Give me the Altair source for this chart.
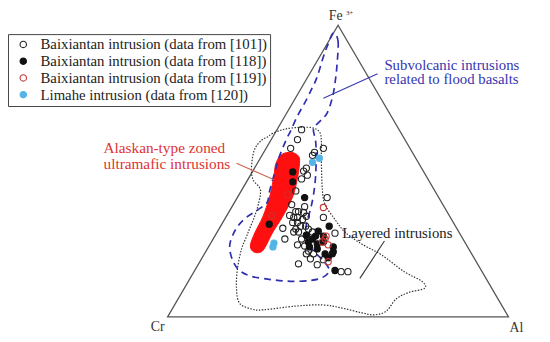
import altair as alt
import pandas as pd

# Ternary frame: x = Al + Fe3+/2 (%), y = Fe3+ (%); Cr at (0,0), Al at (100,0), Fe3+ at (50,100)
series_names = [
    "Baixiantan intrusion (data from [101])",
    "Baixiantan intrusion (data from [118])",
    "Baixiantan intrusion (data from [119])",
    "Limahe intrusion (data from [120])",
]
stroke_colors = ["#222222", "#111111", "#c83232", "#55b4e6"]
fill_colors = ["transparent", "#111111", "transparent", "#55b4e6"]

s101_x = [39.3, 38.1, 36.1, 45.7, 43.1, 42.5, 40.7, 39.9, 41.0, 39.3, 37.6, 46.8, 45.7, 37.6, 38.4, 39.9,
          37.0, 38.1, 39.6, 40.7, 36.7, 38.1, 39.0, 40.5, 37.6, 41.3, 38.4, 42.5, 37.0, 33.8, 39.3, 34.4,
          38.1, 49.1, 38.4, 41.9, 43.9, 45.7, 50.9, 52.9, 42.8, 40.7, 40.2, 35.8, 40.2, 41.3, 36.4]
s101_y = [64.2, 60.8, 57.8, 57.8, 56.4, 55.4, 51.0, 50.0, 48.6, 47.3, 43.2, 40.9, 34.1, 36.1, 36.1, 35.8,
          34.1, 34.1, 33.4, 34.5, 32.4, 32.4, 31.1, 31.1, 30.1, 30.1, 29.1, 29.1, 29.1, 30.4, 26.7, 26.7,
          24.7, 28.7, 18.2, 19.9, 17.9, 19.6, 15.5, 15.5, 21.6, 21.6, 37.8, 34.8, 24.3, 22.6, 38.5]
s118_x = [36.7, 36.7, 40.2, 29.8, 47.4, 44.2, 43.4, 42.5, 41.3, 45.7, 43.9, 45.7, 41.6, 43.9, 46.2, 48.3,
          47.1, 48.6, 48.6, 49.1, 40.7]
s118_y = [49.7, 46.3, 40.9, 31.8, 31.1, 29.4, 27.7, 26.7, 25.7, 27.7, 25.0, 25.7, 24.0, 23.3, 21.6, 21.6,
          20.3, 24.0, 22.3, 15.9, 28.0]
s119_x = [35.3, 30.6, 45.7, 46.5, 45.4, 47.1, 47.1, 46.2]
s119_y = [41.9, 34.8, 37.5, 27.7, 25.7, 24.7, 18.9, 26.7]
s120_x = [42.5, 44.5, 31.2, 30.9]
s120_y = [53.0, 54.4, 25.3, 24.0]

tri_x = [0, 100, 50]
tri_y = [0, 0, 100]

alaskan_x = [33.5, 36.4, 38.4, 38.7, 38.1, 36.7, 33.8, 30.9, 28.3, 26.6, 24.9, 24.3, 25.7, 28.0, 30.1, 31.2, 31.8]
alaskan_y = [55.7, 56.4, 55.1, 52.7, 47.6, 41.2, 34.5, 29.1, 23.3, 22.0, 22.6, 24.7, 29.1, 34.5, 41.9, 48.6, 52.7]

subvolc_x = [48.6, 50.0, 49.7, 49.1, 48.3, 46.8, 44.8, 42.8, 43.4, 43.6, 43.4, 42.8, 41.9, 40.7, 40.7, 42.8,
             45.7, 47.4, 45.4, 41.9, 36.1, 30.3, 24.6, 21.1, 19.1, 18.2, 19.1, 20.8, 23.1, 26.6, 29.2, 29.8,
             31.2, 32.7, 34.7, 36.1, 38.1, 40.5, 42.5, 43.9, 45.7, 47.1]
subvolc_y = [97.3, 94.6, 86.5, 80.1, 75.0, 69.9, 67.2, 64.5, 60.5, 55.4, 48.0, 41.9, 36.8, 31.8, 26.7, 22.6,
             19.3, 15.9, 13.5, 12.5, 12.2, 12.8, 13.9, 15.9, 19.3, 24.0, 28.0, 31.4, 34.1, 36.8, 39.2, 42.6,
             48.6, 54.7, 60.5, 63.8, 68.9, 74.0, 78.7, 82.4, 89.2, 93.6]

layered_x = [29.5, 30.6, 33.8, 37.6, 42.2, 44.5, 45.1, 45.1, 45.4, 46.2, 49.1, 52.0, 56.9, 62.7, 69.4, 74.6,
             75.4, 70.8, 67.0, 64.2, 60.7, 56.9, 51.2, 45.4, 37.6, 28.0, 24.6, 21.1, 20.2, 20.5, 21.7, 23.1,
             24.0, 25.4, 26.6, 27.2, 25.1, 24.6, 25.4, 27.5]
layered_y = [61.8, 62.8, 64.2, 64.9, 64.9, 63.5, 60.5, 53.7, 43.6, 38.5, 33.4, 29.1, 25.0, 21.3, 15.5, 12.2,
             9.8, 8.4, 6.1, 2.0, 0.7, 1.4, 3.0, 4.1, 3.7, 2.4, 2.7, 4.7, 9.8, 16.6, 23.3, 27.4,
             30.1, 34.1, 38.5, 43.6, 47.0, 51.0, 57.1, 60.5]

# leader lines: start and end of each
leader_red = [20.2, 52.7, 31.2, 47.0]
leader_blue = [61.6, 83.4, 45.7, 75.0]
leader_black = [63.6, 26.0, 56.4, 13.2]

alaskan_text = ["Alaskan-type zoned", "ultramafic intrusions"]
alaskan_text_y = [57.8, 52.4]
subvolc_text = ["Subvolcanic intrusions", "related to flood basalts"]
subvolc_text_y = [86.5, 81.4]
layered_text = ["Layered intrusions"]

vertex_labels = ["Cr", "Al", "Fe"]
vertex_x = [-2.9, 102.3, 49.3]
vertex_y = [-3.4, -3.7, 103.0]

SERIF = "Liberation Serif"
XS = alt.Scale(domain=[-46.82, 109.83], nice=False, zero=False)
YS = alt.Scale(domain=[-7.77, 105.07], nice=False, zero=False)


def X(field="x"):
    return alt.X(f"{field}:Q", scale=XS, axis=None)


def Y(field="y"):
    return alt.Y(f"{field}:Q", scale=YS, axis=None)


def path_df(xs, ys):
    return pd.DataFrame({"x": xs, "y": ys, "i": list(range(len(xs)))})


pts = pd.concat([
    pd.DataFrame({"x": s101_x, "y": s101_y, "series": series_names[0]}),
    pd.DataFrame({"x": s118_x, "y": s118_y, "series": series_names[1]}),
    pd.DataFrame({"x": s119_x, "y": s119_y, "series": series_names[2]}),
    pd.DataFrame({"x": s120_x, "y": s120_y, "series": series_names[3]}),
], ignore_index=True)

triangle = alt.Chart(path_df(tri_x, tri_y)).mark_line(
    interpolate="linear-closed", color="#555555", strokeWidth=1.3
).encode(x=X(), y=Y(), order="i:Q")

alaskan = alt.Chart(path_df(alaskan_x, alaskan_y)).mark_line(
    interpolate="cardinal-closed", color="#ff1010", fill="#ff1010", strokeWidth=1
).encode(x=X(), y=Y(), order="i:Q")

layered = alt.Chart(path_df(layered_x, layered_y)).mark_line(
    interpolate="cardinal-closed", color="#333333", strokeWidth=1.2, strokeDash=[1.5, 1.5]
).encode(x=X(), y=Y(), order="i:Q")

subvolc = alt.Chart(path_df(subvolc_x, subvolc_y)).mark_line(
    interpolate="cardinal-closed", color="#2f2fb0", strokeWidth=1.7, strokeDash=[7, 5]
).encode(x=X(), y=Y(), order="i:Q")


def leader(vals, color):
    df = pd.DataFrame({"x": [vals[0]], "y": [vals[1]], "x2": [vals[2]], "y2": [vals[3]]})
    return alt.Chart(df).mark_rule(color=color, strokeWidth=1.1).encode(
        x=X(), y=Y(), x2="x2:Q", y2="y2:Q")


legend = alt.Legend(
    orient="none", legendX=0, legendY=24, title=None, strokeColor="#444444", fillColor="white",
    padding=3, labelFont=SERIF, labelFontSize=15, labelColor="#222222", symbolSize=42,
    symbolStrokeWidth=1.1, rowPadding=1, labelLimit=400, labelOffset=10, symbolOffset=5,
    symbolType="circle",
)

points = alt.Chart(pts).mark_point(shape="circle", size=40, strokeWidth=1.1, opacity=1).encode(
    x=X(), y=Y(),
    stroke=alt.Stroke("series:N", scale=alt.Scale(domain=series_names, range=stroke_colors), legend=legend),
    fill=alt.Fill("series:N", scale=alt.Scale(domain=series_names, range=fill_colors), legend=legend),
)

alaskan_lbl = alt.Chart(pd.DataFrame({"x": [-18.8, -18.8], "y": alaskan_text_y, "t": alaskan_text})).mark_text(
    align="left", baseline="middle", font=SERIF, fontSize=15.5, color="#dd3333"
).encode(x=X(), y=Y(), text="t:N")

subvolc_lbl = alt.Chart(pd.DataFrame({"x": [63.6, 63.6], "y": subvolc_text_y, "t": subvolc_text})).mark_text(
    align="left", baseline="middle", font=SERIF, fontSize=15, color="#3535b0"
).encode(x=X(), y=Y(), text="t:N")

layered_lbl = alt.Chart(pd.DataFrame({"x": [51.2], "y": [28.7], "t": layered_text})).mark_text(
    align="left", baseline="middle", font=SERIF, fontSize=15, color="#222222"
).encode(x=X(), y=Y(), text="t:N")

vertex_lbl = alt.Chart(pd.DataFrame({"x": vertex_x, "y": vertex_y, "t": vertex_labels})).mark_text(
    align="center", baseline="middle", font=SERIF, fontSize=14, color="#333333"
).encode(x=X(), y=Y(), text="t:N")

sup_lbl = alt.Chart(pd.DataFrame({"x": [52.3], "y": [104.3], "t": ["3+"]})).mark_text(
    align="left", baseline="middle", font=SERIF, fontSize=7, color="#333333"
).encode(x=X(), y=Y(), text="t:N")

chart = alt.layer(
    triangle, alaskan, layered, subvolc,
    leader(leader_red, "#cc6650"), leader(leader_blue, "#3838b0"), leader(leader_black, "#333333"),
    points, alaskan_lbl, subvolc_lbl, layered_lbl, vertex_lbl, sup_lbl,
).properties(
    width=542, height=334, autosize=alt.AutoSizeParams(type="none"), padding=0,
).configure_view(stroke=None)

chart.save("out.html", embed_options={"renderer": "svg", "actions": False})
